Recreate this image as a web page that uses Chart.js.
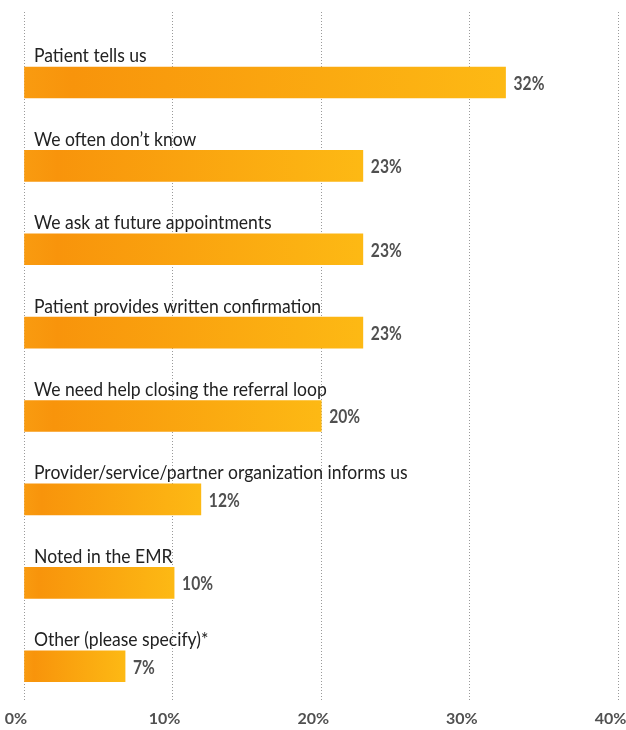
<!DOCTYPE html>
<html>
<head>
<meta charset="utf-8">
<script src="https://cdn.jsdelivr.net/npm/chart.js@4"></script>
<style>
  html, body { margin: 0; padding: 0; background: #fff; }
  #wrap { width: 626px; height: 730px; position: relative; }
</style>
</head>
<body>
<div id="wrap"><canvas id="myChart"></canvas></div>
<script>
  const categories = [
    'Patient tells us',
    'We often don\u2019t know',
    'We ask at future appointments',
    'Patient provides written confirmation',
    'We need help closing the referral loop',
    'Provider/service/partner organization informs us',
    'Noted in the EMR',
    'Other (please specify)*'
  ];
  const values = [32.4, 22.8, 22.8, 22.8, 20.0, 11.9, 10.1, 6.8];
  const xTicks = [0, 10, 20, 30, 40];

  const ctx = document.getElementById('myChart').getContext('2d');

  // orange -> yellow gradient along each bar
  function barFill(c) {
    const chart = c.chart;
    if (!chart.chartArea || !c.raw) return '#f99a0b';
    const x0 = chart.scales.x.getPixelForValue(0);
    const x1 = chart.scales.x.getPixelForValue(c.raw.x);
    const g = chart.ctx.createLinearGradient(x0, 0, x1, 0);
    g.addColorStop(0, '#f99b10');
    g.addColorStop(0.1, '#f8940b');
    g.addColorStop(1, '#fdb914');
    return g;
  }

  const barText = {
    id: 'barText',
    afterDatasetsDraw(chart) {
      const c = chart.ctx;
      const meta = chart.getDatasetMeta(0);
      meta.data.forEach((bar, i) => {
        const top = bar.y - bar.height / 2;
        // category label above the bar
        c.save();
        c.font = '19.5px Lato, "Open Sans", sans-serif';
        c.fillStyle = '#222';
        c.textBaseline = 'alphabetic';
        c.textAlign = 'left';
        c.translate(chart.scales.x.getPixelForValue(0) + 10, top - 4.5);
        c.scale(0.9, 1);
        c.fillText(categories[i], 0, 0);
        c.restore();
        // value label right of the bar
        c.save();
        c.font = 'bold 19.5px Lato, "Open Sans", sans-serif';
        c.fillStyle = '#505050';
        c.textBaseline = 'middle';
        c.translate(bar.x + 8, bar.y + 1);
        c.scale(0.8, 1);
        c.fillText(Math.round(values[i]) + '%', 0, 0);
        c.restore();
      });
    }
  };

  const myChart = new Chart(ctx, {
    type: 'bar',
    data: {
      datasets: [{
        data: values.map((v, i) => ({ x: v, y: i })),
        backgroundColor: barFill,
        borderWidth: 0,
        barThickness: 31
      }]
    },
    options: {
      indexAxis: 'y',
      responsive: true,
      maintainAspectRatio: false,
      animation: false,
      layout: { autoPadding: false, padding: { left: 24, right: 7.5, top: 12, bottom: 0 } },
      plugins: { legend: { display: false }, tooltip: { enabled: false } },
      scales: {
        x: {
          type: 'linear',
          min: 0,
          max: 40,
          offset: false,
          afterBuildTicks: (s) => { s.ticks = xTicks.map(v => ({ value: v })); },
          afterFit: (s) => { s.height = 30; s.paddingLeft = 0; s.paddingRight = 0; },
          border: { display: false, dash: [1, 2] },
          grid: { color: '#9a9a9a', drawTicks: false, lineWidth: 1 },
          ticks: {
            callback: (v) => v + '%',
            color: '#505050',
            font: { family: 'Lato, "Open Sans", sans-serif', size: 16, weight: 'bold' },
            padding: 9,
            labelOffset: -8,
            maxRotation: 0
          }
        },
        y: {
          type: 'linear',
          display: false,
          offset: false,
          reverse: true,
          min: -0.845,
          max: 7.405
        }
      }
    },
    plugins: [barText]
  });
</script>
</body>
</html>
